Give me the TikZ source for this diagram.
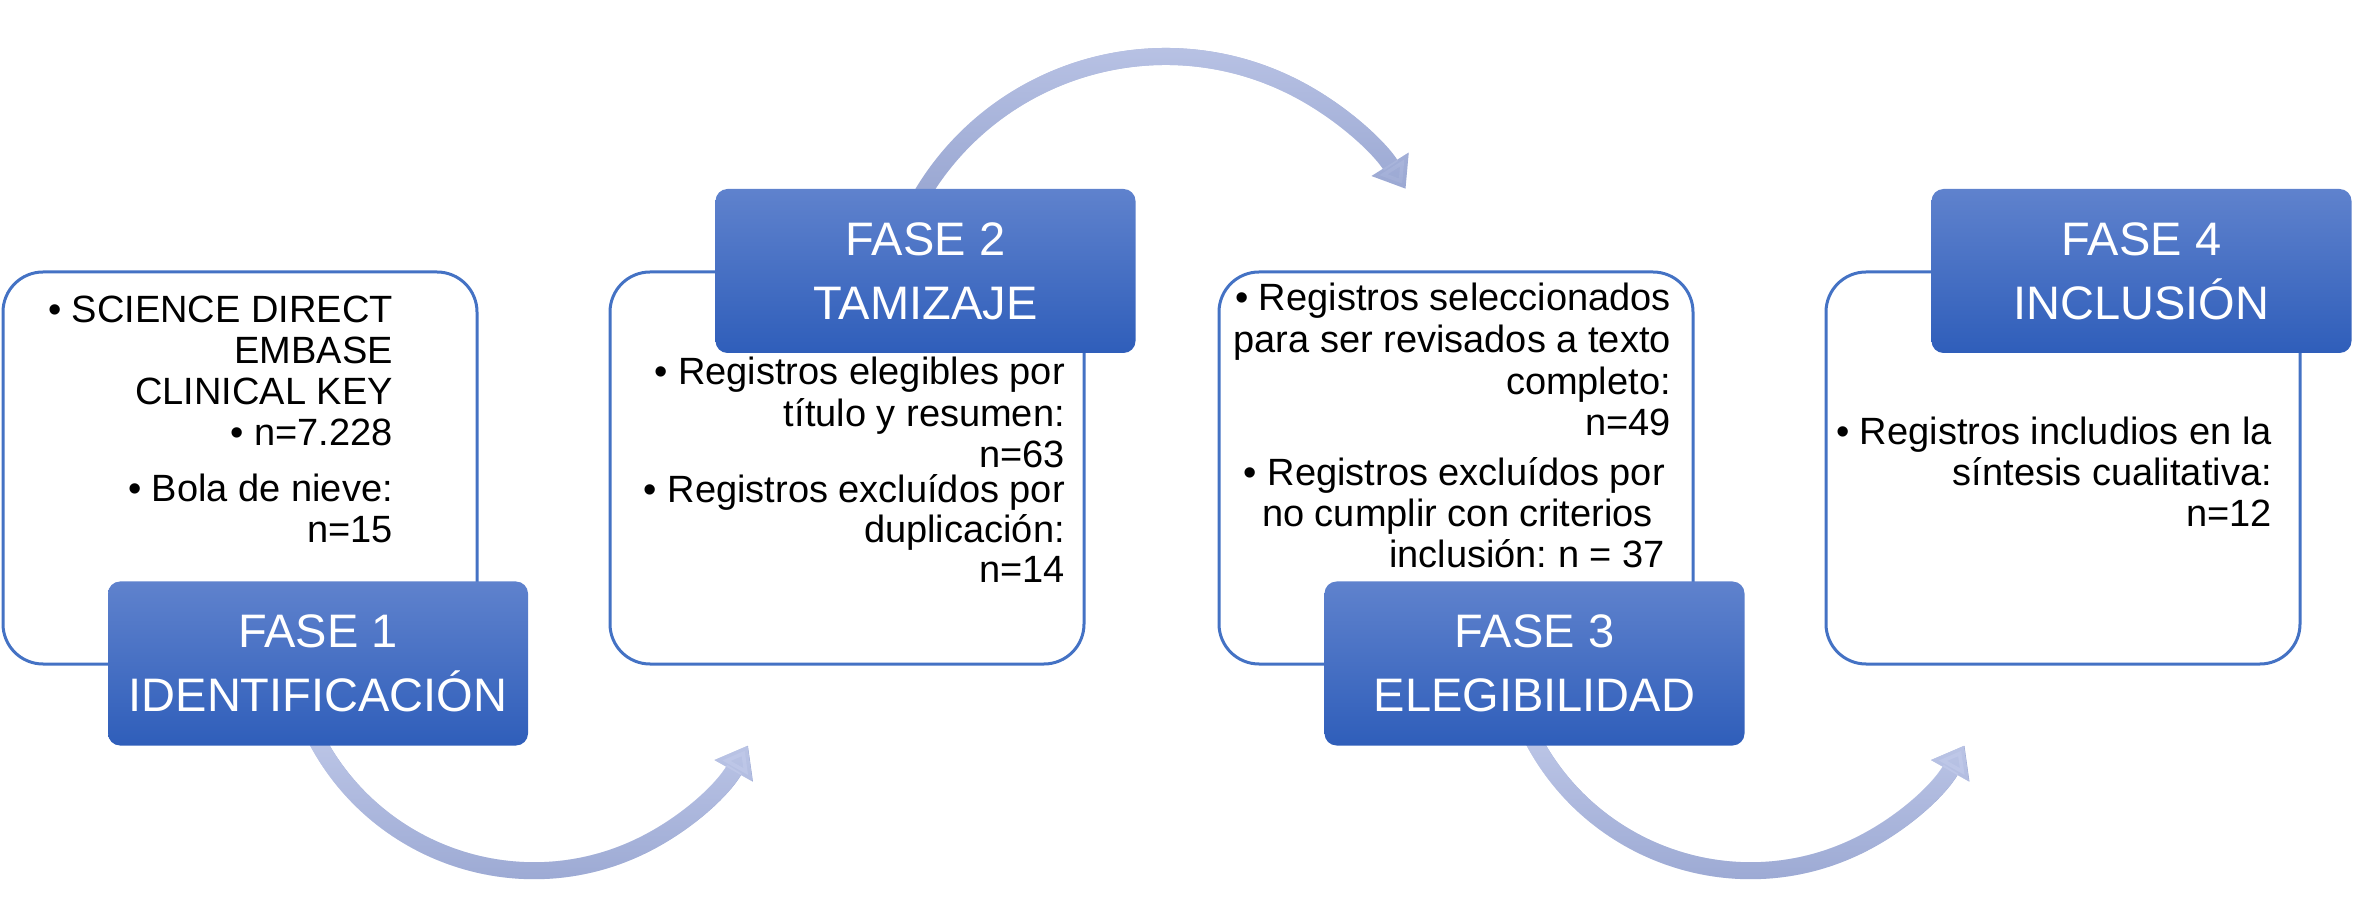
\documentclass[tikz,border=0pt]{standalone}
\usepackage{fontspec}
\setmainfont{Liberation Sans}
\frenchspacing
\usetikzlibrary{arrows.meta,backgrounds,fadings}
\definecolor{boxline}{RGB}{68,114,196}
\definecolor{phtop}{RGB}{95,130,205}
\definecolor{phbot}{RGB}{47,94,186}
\definecolor{flowdark}{RGB}{150,164,208}
\definecolor{flowlight}{RGB}{192,201,233}
\tikzfading[name=fadetop, top color=transparent!0, bottom color=transparent!100]
\tikzset{
  panel/.style={draw=boxline, line width=3pt, fill=white, rounded corners=40pt,
    minimum width=474pt, minimum height=392pt, inner sep=0pt},
  phase/.style={top color=phtop, bottom color=phbot, draw=none, rounded corners=12pt,
    minimum width=420pt, minimum height=164pt, inner sep=0pt, align=center,
    text=white, font=\fontsize{47pt}{64pt}\selectfont},
  bodytxt/.style={font=\fontsize{38pt}{41pt}\selectfont, anchor=base east, inner sep=0pt},
  flow/.style={draw=flowdark, line width=17pt, -{Triangle[width=42pt,length=29pt]}},
  flowtop/.style={draw=flowlight, line width=17pt, -{Triangle[width=42pt,length=29pt,fill=flowlight]},
    path fading=fadetop}
}
\begin{document}
\begin{tikzpicture}[x=1pt,y=1pt]
\useasboundingbox (0,0) rectangle (2354,914);
% white panels
\node[panel] (p1) at (240,446) {};
\node[panel] (p2) at (847,446) {};
\node[panel] (p3) at (1456,446) {};
\node[panel] (p4) at (2063,446) {};
% phase boxes
\node[phase] (f1) at (318,250.5) {FASE 1\\IDENTIFICACIÓN};
\node[phase] (f2) at (925.5,643) {FASE 2\\TAMIZAJE};
\node[phase] (f3) at (1534.5,250.5) {FASE 3\\ELEGIBILIDAD};
\node[phase] (f4) at (2141.5,643) {FASE 4\\INCLUSIÓN};
% panel 1 text
\node[bodytxt] (a1) at (393,591) {• SCIENCE DIRECT};
\node[bodytxt] (a2) at (393,550) {EMBASE};
\node[bodytxt] (a3) at (393,509) {CLINICAL KEY};
\node[bodytxt] (a4) at (393,468) {• n=7.228};
\node[bodytxt] (a5) at (393,412) {• Bola de nieve:};
\node[bodytxt] (a6) at (393,371) {n=15};
% panel 2 text
\node[bodytxt] (b1) at (1065,529) {• Registros elegibles por};
\node[bodytxt] (b2) at (1065,487) {título y resumen:};
\node[bodytxt] (b3) at (1065,446) {n=63};
\node[bodytxt] (b4) at (1065,411) {• Registros excluídos por};
\node[bodytxt] (b5) at (1065,371) {duplicación:};
\node[bodytxt] (b6) at (1065,331) {n=14};
% panel 3 text
\node[bodytxt] (c1) at (1671,603) {• Registros seleccionados};
\node[bodytxt] (c2) at (1671,561) {para ser revisados a texto};
\node[bodytxt] (c3) at (1671,519) {completo:};
\node[bodytxt] (c4) at (1671,478) {n=49};
\node[bodytxt] (c5) at (1665,428) {• Registros excluídos por};
\node[bodytxt] (c6) at (1653,387) {no cumplir con criterios};
\node[bodytxt] (c7) at (1665,346) {inclusión: n = 37};
% panel 4 text
\node[bodytxt] (d1) at (2272,469) {• Registros includios en la};
\node[bodytxt] (d2) at (2272,428) {síntesis cualitativa:};
\node[bodytxt] (d3) at (2272,387) {n=12};
% flow arrows
\begin{scope}[on background layer]
\foreach \st in {flow,flowtop}{
  \draw[\st] ([shift={(-6.7,16.9)}]f1.south) arc[start angle=205, end angle=330.6, radius=245.7pt];
  \draw[\st] ([shift={(-10.7,-18.4)}]f2.north) arc[start angle=152, end angle=32.3, radius=284pt];
  \draw[\st] ([shift={(-6.7,16.9)}]f3.south) arc[start angle=205, end angle=330.6, radius=245.7pt];
}
\end{scope}
\end{tikzpicture}
\end{document}
